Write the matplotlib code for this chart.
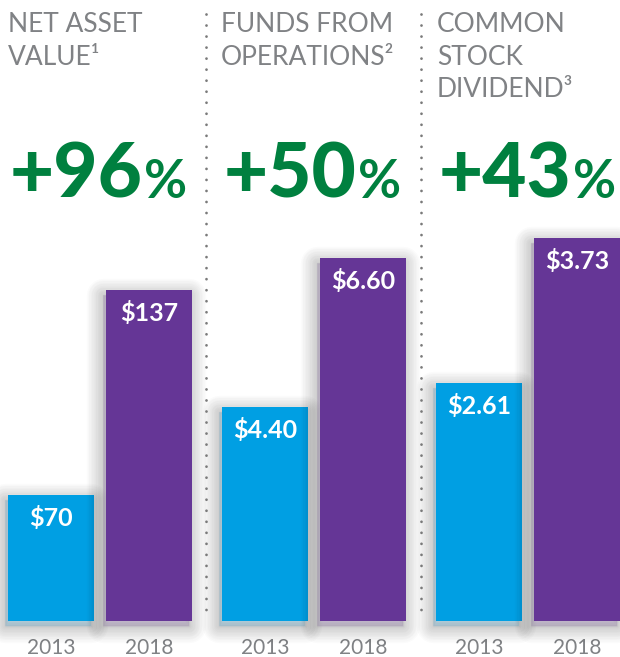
import matplotlib
matplotlib.use("Agg")
import matplotlib.pyplot as plt
import matplotlib.patheffects as pe
from matplotlib.lines import Line2D

# ---------------- data ----------------
titles = [["NET ASSET", "VALUE\u00b9"],
          ["FUNDS FROM", "OPERATIONS\u00b2"],
          ["COMMON", "STOCK", "DIVIDEND\u00b3"]]
changes = ["+96", "+50", "+43"]
years = ["2013", "2018"]
values_2013 = [70, 4.40, 2.61]
values_2018 = [137, 6.60, 3.73]
labels_2013 = ["$70", "$4.40", "$2.61"]
labels_2018 = ["$137", "$6.60", "$3.73"]

# ---------------- style ----------------
BLUE = "#009FE3"
PURPLE = "#653696"
GREEN = "#00803F"
GRAY = "#808285"
DOT = "#7A7A7A"
FONT = ["Lato", "DejaVu Sans"]

W, H = 620, 657
fig = plt.figure(figsize=(W / 100, H / 100), dpi=100)

def fx(px):
    return px / W

def fy(py):
    return 1 - py / H

panel_left_px = [2, 216, 430]
axes_w_px = 196
axes_bottom_px = 621
axes_h_px = 400
ybase = [28.8, 1.24, 0.77]
px_per_unit = [3.06, 67.7, 129.5]

shadow = [pe.Stroke(linewidth=w, foreground="black", alpha=0.017,
                    offset=(-2.5, -3.5), joinstyle="round")
          for w in range(24, 0, -2)] + [pe.Normal()]

for i in range(3):
    ax = fig.add_axes([fx(panel_left_px[i]), fy(axes_bottom_px),
                       fx(axes_w_px), axes_h_px / H])
    b = ybase[i]
    ax.set_xlim(-0.5, 1.5)
    ax.set_ylim(b, b + axes_h_px / px_per_unit[i])
    vals = [values_2013[i], values_2018[i]]
    labs = [labels_2013[i], labels_2018[i]]
    bars = ax.bar([0, 1], [v - b for v in vals], bottom=b, width=0.878,
                  color=[BLUE, PURPLE], clip_on=False, zorder=2,
                  linewidth=0)
    for bar in bars:
        bar.set_path_effects(shadow)
    for x, v, lab in zip([0, 1], vals, labs):
        ax.annotate(lab, xy=(x, v), xytext=(0, -23), textcoords="offset pixels",
                    ha="center", va="center", color="white", fontsize=18,
                    fontweight="bold", family=FONT, zorder=3)
    ax.set_xticks([0, 1])
    ax.set_xticklabels(years, family=FONT, fontsize=15, color=GRAY)
    ax.tick_params(axis="x", length=0, pad=12)
    ax.set_yticks([])
    for s in ax.spines.values():
        s.set_visible(False)
    ax.patch.set_alpha(0)

# titles
title_x_px = [8, 221, 437]
title_baselines_px = [32, 65, 97]
for i in range(3):
    for j, line in enumerate(titles[i]):
        fig.text(fx(title_x_px[i]), fy(title_baselines_px[j]), line,
                 ha="left", va="baseline", color=GRAY, fontsize=19,
                 family=FONT, fontweight="normal")

# percentage changes
pct_x_px = [10, 224, 439]
pct_baseline_px = 198
for i in range(3):
    t = fig.text(fx(pct_x_px[i]), fy(pct_baseline_px), changes[i],
                 ha="left", va="baseline", color=GREEN, fontsize=55,
                 family=FONT, fontweight="black")
    fig.add_artist(matplotlib.text.Annotation(
        "%", xy=(1, fy(pct_baseline_px)),
        xycoords=(t, "figure fraction"),
        xytext=(1, 0), textcoords="offset pixels",
        ha="left", va="baseline", color=GREEN, fontsize=38,
        family=FONT, fontweight="bold", annotation_clip=False))

# dotted separators
for xpx in [206, 421]:
    fig.add_artist(Line2D([fx(xpx), fx(xpx)], [fy(14), fy(614)],
                          transform=fig.transFigure, color=DOT,
                          linewidth=2.0, linestyle=(0, (0.01, 3.96)),
                          dash_capstyle="round"))

fig.savefig("out.png", dpi=100)
